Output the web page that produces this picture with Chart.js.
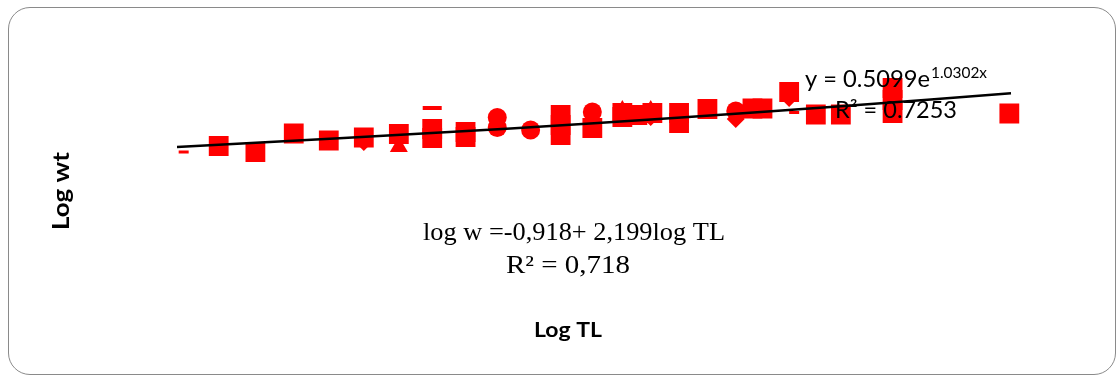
<!DOCTYPE html>
<html>
<head>
<meta charset="utf-8">
<script src="https://cdn.jsdelivr.net/npm/chart.js@4.4.1/dist/chart.umd.min.js"></script>
<style>
  html, body { margin: 0; padding: 0; background: #ffffff; }
  #wrap { position: relative; width: 1118px; height: 377px; }
  #frame { position: absolute; left: 8px; top: 7px; width: 1108px; height: 368px; box-sizing: border-box;
           border: 1.5px solid #8a8a8a; border-radius: 22px; pointer-events: none; }
  canvas { position: absolute; left: 0; top: 0; }
</style>
</head>
<body>
<div id="wrap">
  <canvas id="c" width="1118" height="377"></canvas>
  <div id="frame"></div>
</div>
<script>
// ---- data (Log TL, Log wt) ----
const squareX = [1.025,1.047,1.070,1.091,1.112,1.133,1.153,1.153,1.173,1.173,1.230,1.230,1.230,1.249,1.267,1.267,1.276,1.285,1.301,1.301,1.318,1.345,1.351,1.367,1.383,1.398,1.429,1.429,1.429,1.499];
const squareY = [1.446,1.339,1.670,1.545,1.598,1.661,1.750,1.589,1.696,1.607,2.000,1.821,1.643,1.768,2.036,1.964,2.000,2.036,2.036,1.857,2.107,2.116,2.116,2.411,2.009,2.009,2.482,2.268,2.036,2.027];

const circleX = [1.192,1.192,1.212,1.249,1.335];
const circleY = [1.955,1.777,1.732,2.054,2.071];

const triangleX = [1.133,1.267,1.284];
const triangleY = [1.432,2.082,2.082];

const diamondX = [1.112,1.284,1.335,1.367];
const diamondY = [1.518,1.964,1.929,2.304];

const dashX = [1.004,1.370];
const dashY = [1.339,2.045];

const longDashX = [1.153];
const longDashY = [2.125];

// trend line
const trendX = [1.0,1.1,1.2,1.3,1.4,1.5];
const trendY = [1.43,1.59,1.76,1.95,2.16,2.39];

// text labels
const xTitle = 'Log TL';
const yTitle = 'Log wt';
const trendEqMain = 'y = 0.5099e';
const trendEqSup = '1.0302x';
const trendR2 = 'R² = 0.7253';
const fitEq = 'log w =-0,918+ 2,199log TL';
const fitR2 = 'R² = 0,718';

const pts = (xs, ys) => xs.map((x, i) => ({ x: x, y: ys[i] }));
const RED = '#ff0000';

function fitText(ctx, txt, font, left, right, baseline) {
  ctx.font = font;
  const w = ctx.measureText(txt).width;
  const sx = (right - left) / w;
  ctx.save();
  ctx.translate(left, baseline);
  ctx.scale(sx, 1);
  ctx.textAlign = 'left';
  ctx.textBaseline = 'alphabetic';
  ctx.fillText(txt, 0, 0);
  ctx.restore();
}

const labelsPlugin = {
  id: 'labels',
  afterDraw(chart) {
    const ctx = chart.ctx;
    ctx.save();
    ctx.fillStyle = '#000000';
    // axis titles
    ctx.save();
    ctx.translate(69, 191);
    ctx.rotate(-Math.PI / 2);
    fitText(ctx, yTitle, 'bold 23px Lato', -39, 39, 0);
    ctx.restore();
    fitText(ctx, xTitle, 'bold 20px Lato', 534, 602, 337);
    // trendline equation
    fitText(ctx, trendEqMain, '23px Lato', 805, 930, 87);
    fitText(ctx, trendEqSup, '15px Lato', 931, 987, 78);
    fitText(ctx, trendR2, '23px Lato', 835, 957, 118);
    // regression text
    fitText(ctx, fitEq, '25px "Liberation Serif"', 423, 725, 240);
    fitText(ctx, fitR2, '25px "Liberation Serif"', 506, 630, 273);
    ctx.restore();
  }
};

new Chart(document.getElementById('c'), {
  type: 'scatter',
  data: {
    datasets: [
      { label: 'trend', type: 'line', data: pts(trendX, trendY), borderColor: '#000000', borderWidth: 2.5,
        pointRadius: 0, fill: false, tension: 0.4, showLine: true },
      { label: 'dash', data: pts(dashX, dashY), pointStyle: 'line', pointRadius: 5,
        pointBorderColor: RED, pointBorderWidth: 3, pointBackgroundColor: RED },
      { label: 'longdash', data: pts(longDashX, longDashY), pointStyle: 'line', pointRadius: 9.5,
        pointBorderColor: RED, pointBorderWidth: 4, pointBackgroundColor: RED },
      { label: 'diamond', data: pts(diamondX, diamondY), pointStyle: 'rectRot', pointRadius: 9,
        pointBackgroundColor: RED, pointBorderColor: RED, pointBorderWidth: 0 },
      { label: 'triangle', data: pts(triangleX, triangleY), pointStyle: 'triangle', pointRadius: 10.4,
        pointBackgroundColor: RED, pointBorderColor: RED, pointBorderWidth: 0 },
      { label: 'circle', data: pts(circleX, circleY), pointStyle: 'circle', pointRadius: 9.5,
        pointBackgroundColor: RED, pointBorderColor: RED, pointBorderWidth: 0 },
      { label: 'square', data: pts(squareX, squareY), pointStyle: 'rect', pointRadius: 14,
        pointBackgroundColor: RED, pointBorderColor: RED, pointBorderWidth: 0 }
    ]
  },
  options: {
    responsive: false,
    animation: false,
    events: [],
    layout: { padding: { left: 143.64, right: 73.64, top: 39.96, bottom: 150 } },
    plugins: { legend: { display: false }, tooltip: { enabled: false } },
    scales: {
      x: { type: 'linear', min: 0.98, max: 1.52, display: false },
      y: { type: 'linear', min: 0, max: 3.34, display: false }
    }
  },
  plugins: [labelsPlugin]
});
</script>
</body>
</html>
